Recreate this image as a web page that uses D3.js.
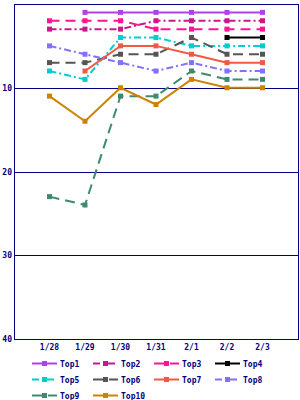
<!DOCTYPE html>
<html>
<head>
<meta charset="utf-8">
<script src="https://cdn.jsdelivr.net/npm/d3@7"></script>
<style>
  body { margin: 0; background: #fff; }
  text { font-family: "DejaVu Sans Mono", monospace; font-weight: bold; font-size: 8px; fill: #000080; }
</style>
</head>
<body>
<div id="chart"></div>
<script>
//Chart data (ranks, null = no point)
var days = ["1/28", "1/29", "1/30", "1/31", "2/1", "2/2", "2/3"];
var names = ["Top1", "Top2", "Top3", "Top4", "Top5", "Top6", "Top7", "Top8", "Top9", "Top10"];
var top1 = [null, 1, 1, 1, 1, 1, 1];
var top2 = [3, 3, 3, 2, 2, 2, 2];
var top3 = [2, 2, 2, 3, 3, 3, 3];
var top4 = [null, null, null, null, null, 4, 4];
var top5 = [8, 9, 4, 4, 5, 5, 5];
var top6 = [7, 7, 6, 6, 4, 6, 6];
var top7 = [null, 8, 5, 5, 6, 7, 7];
var top8 = [5, 6, 7, 8, 7, 8, 8];
var top9 = [23, 24, 11, 11, 8, 9, 9];
var top10 = [11, 14, 10, 12, 9, 10, 10];
var yTicks = [10, 20, 30, 40];

var colors = ["#b040e8", "#c8188c", "#ff1493", "#000000", "#00cdd0",
              "#555555", "#f05a44", "#8470ff", "#3d8a6e", "#cc8400"];
var dashes = [null, "7,3,2,3", "10,6", null, "7,3,2,3",
              "10,6", null, "7,3,2,3", "10,6", null];
var values = [top1, top2, top3, top4, top5, top6, top7, top8, top9, top10];

(function() {
    var width = 300, height = 400;
    var pLeft = 14, pRight = 298, pTop = 4, pBottom = 339;

    var svg = d3.select("#chart").append("svg")
        .attr("width", width)
        .attr("height", height);

    var x = d3.scaleLinear().domain([0, days.length + 1]).range([pLeft, pRight]);
    var y = d3.scaleLinear().domain([0, 40]).range([pTop, pBottom]);

    //Gridlines
    svg.append("g").selectAll("line")
        .data(yTicks)
        .enter().append("line")
        .attr("x1", pLeft).attr("x2", pRight)
        .attr("y1", function(d) { return Math.round(y(d)) + 0.5; })
        .attr("y2", function(d) { return Math.round(y(d)) + 0.5; })
        .attr("stroke", "#000080")
        .attr("stroke-width", 1);

    //Frame
    svg.append("rect")
        .attr("x", pLeft + 0.5).attr("y", pTop + 0.5)
        .attr("width", pRight - pLeft).attr("height", pBottom - pTop)
        .attr("fill", "none")
        .attr("stroke", "#000080");

    //Axis labels
    svg.append("g").selectAll("text")
        .data(yTicks)
        .enter().append("text")
        .attr("x", pLeft - 2)
        .attr("y", function(d) { return y(d) + 3; })
        .attr("text-anchor", "end")
        .text(function(d) { return d; });

    svg.append("g").selectAll("text")
        .data(days)
        .enter().append("text")
        .attr("x", function(d, i) { return x(i + 1); })
        .attr("y", 350)
        .attr("text-anchor", "middle")
        .text(function(d) { return d; });

    //Series
    var series = names.map(function(n, i) {
        return {name: n, color: colors[i], dash: dashes[i],
                points: values[i].map(function(v, j) { return {i: j, v: v}; })};
    });

    var line = d3.line()
        .defined(function(d) { return d.v !== null; })
        .x(function(d) { return x(d.i + 1); })
        .y(function(d) { return y(d.v); });

    var g = svg.append("g").selectAll("g")
        .data(series)
        .enter().append("g");

    g.append("path")
        .attr("d", function(d) { return line(d.points); })
        .attr("fill", "none")
        .attr("stroke", function(d) { return d.color; })
        .attr("stroke-width", 2)
        .attr("stroke-dasharray", function(d) { return d.dash; });

    g.selectAll("rect")
        .data(function(d) { return d.points.filter(function(p) { return p.v !== null; })
            .map(function(p) { return {p: p, color: d.color}; }); })
        .enter().append("rect")
        .attr("x", function(d) { return x(d.p.i + 1) - 2.5; })
        .attr("y", function(d) { return y(d.p.v) - 2.5; })
        .attr("width", 5).attr("height", 5)
        .attr("fill", function(d) { return d.color; });

    //Legend
    var legend = svg.append("g").selectAll("g")
        .data(series)
        .enter().append("g")
        .attr("transform", function(d, i) {
            return "translate(" + (32 + (i % 4) * 61) + "," + (363 + Math.floor(i / 4) * 16) + ")";
        });

    legend.append("line")
        .attr("x1", 0).attr("x2", 25)
        .attr("y1", 0.5).attr("y2", 0.5)
        .attr("stroke", function(d) { return d.color; })
        .attr("stroke-width", 2)
        .attr("stroke-dasharray", function(d) { return d.dash; });

    legend.append("rect")
        .attr("x", 10).attr("y", -2)
        .attr("width", 5).attr("height", 5)
        .attr("fill", function(d) { return d.color; });

    legend.append("text")
        .attr("x", 28)
        .attr("y", 4)
        .text(function(d) { return d.name; });
})();
</script>
</body>
</html>
